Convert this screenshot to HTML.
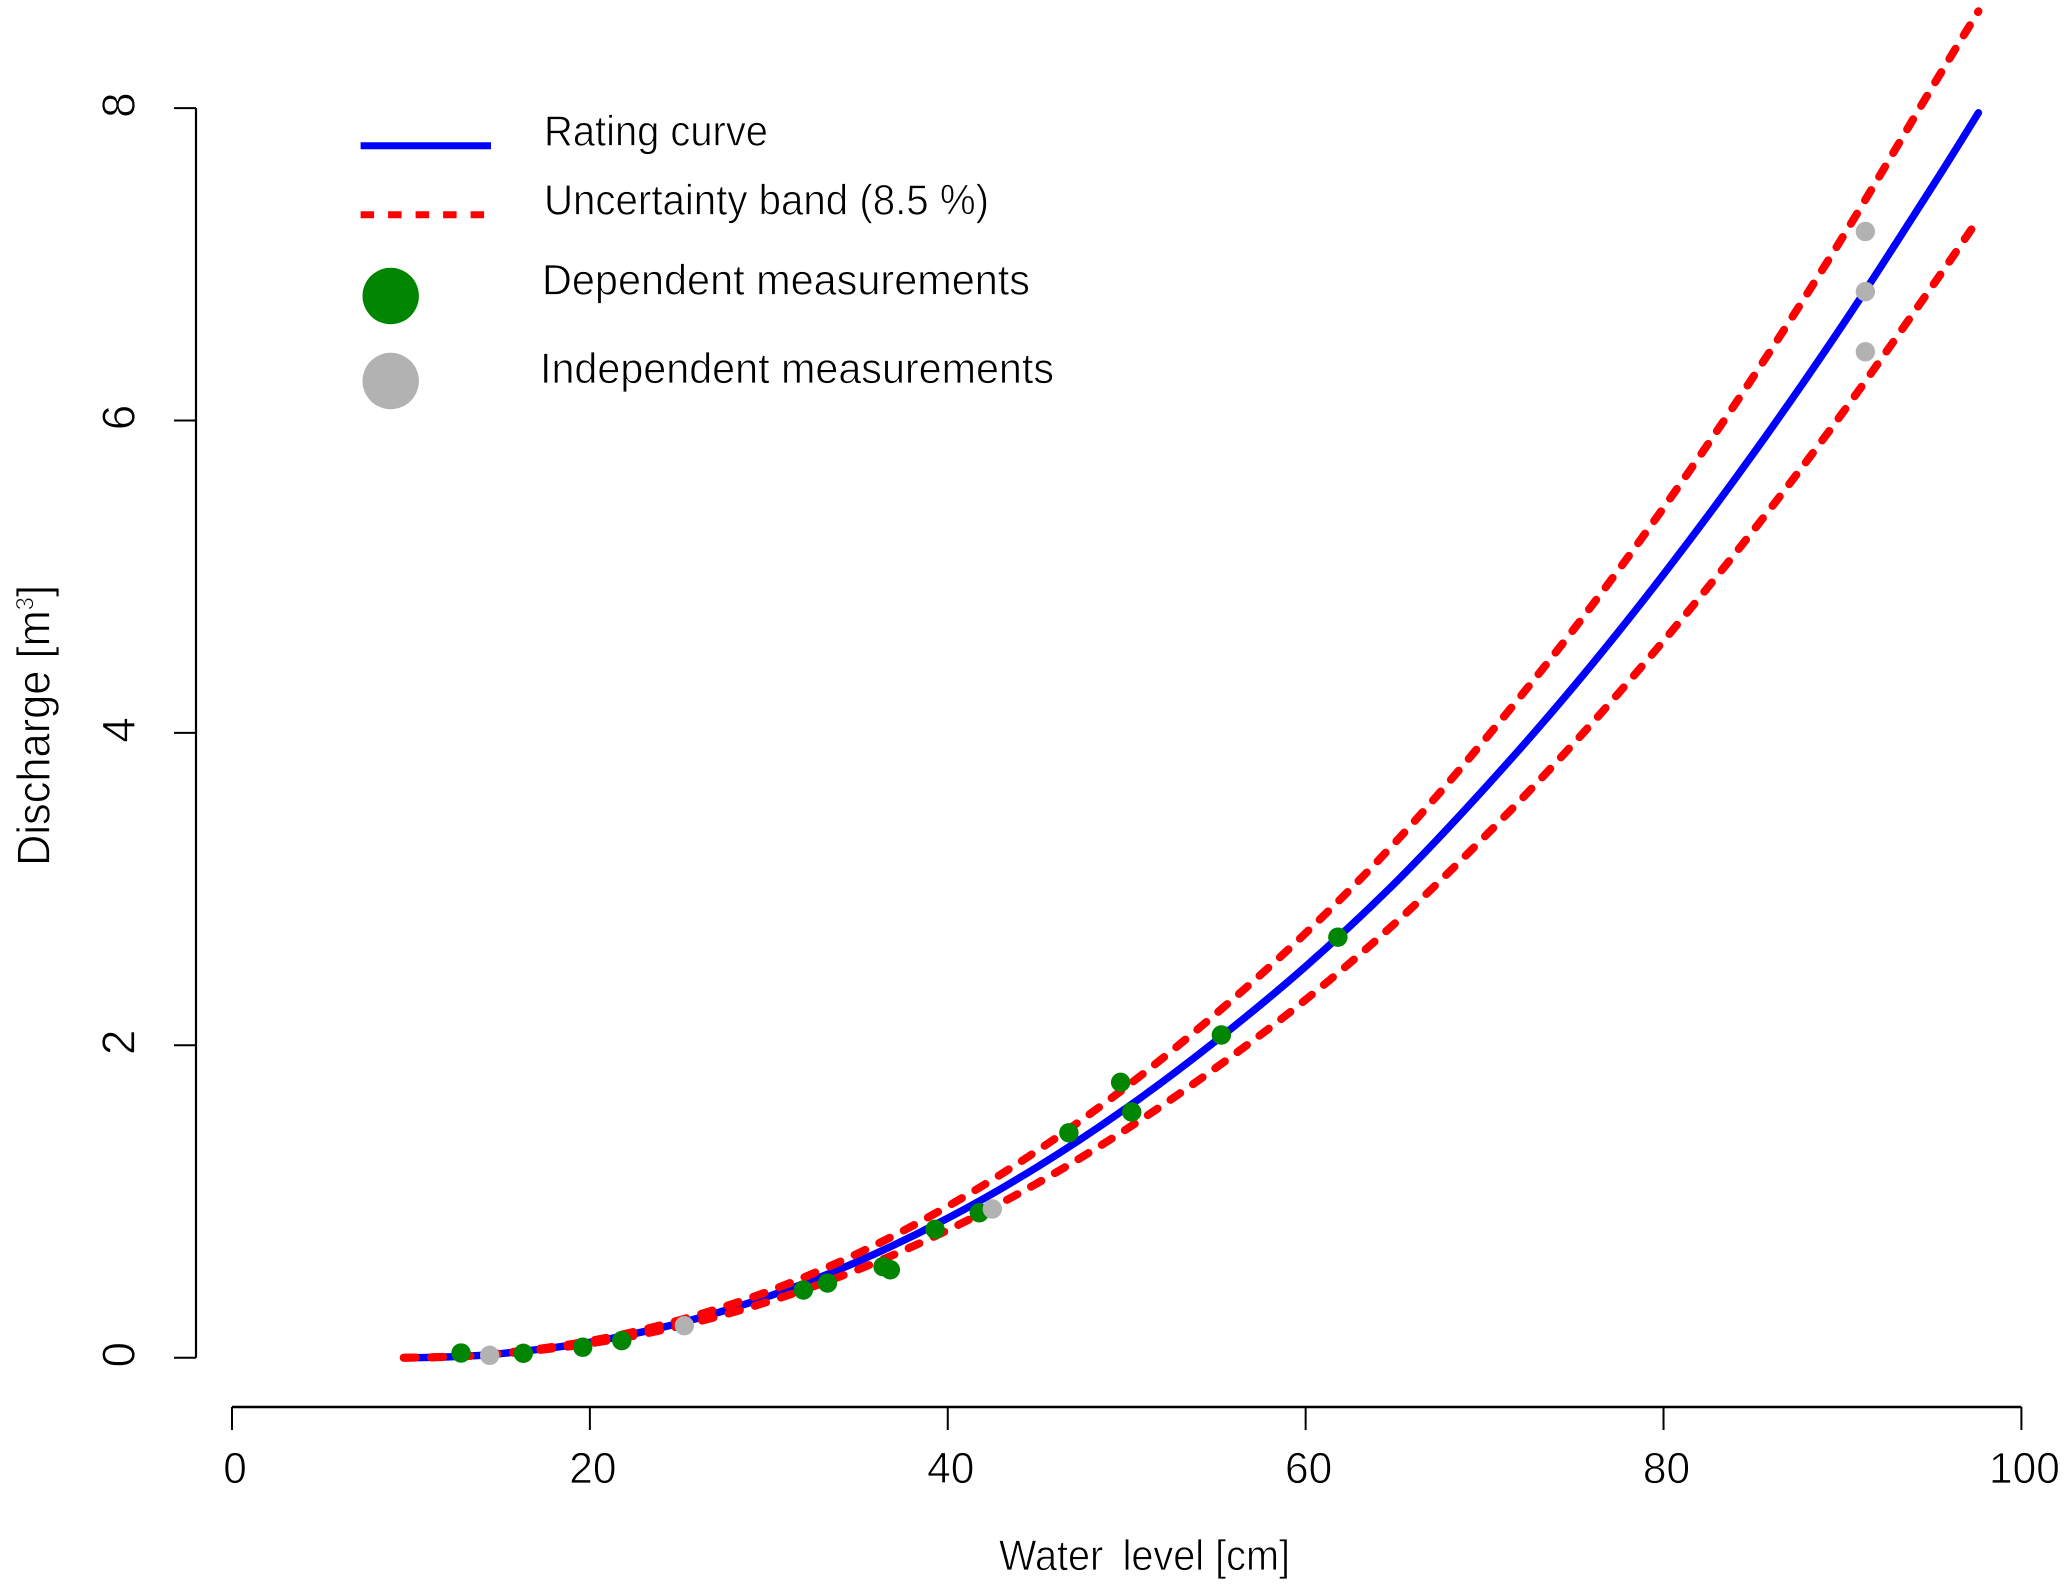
<!DOCTYPE html>
<html lang="en">
<head>
<meta charset="utf-8">
<title>Rating curve</title>
<style>
html,body{margin:0;padding:0;background:#fff;}
svg{display:block;}
text{font-family:"Liberation Sans",sans-serif;fill:#000;stroke:#fff;stroke-width:0.8px;}
</style>
</head>
<body>
<svg id="chart" xmlns="http://www.w3.org/2000/svg" width="2067" height="1586" viewBox="0 0 2067 1586">
  <rect x="0" y="0" width="2067" height="1586" fill="#fff"/>
  <g id="axes"></g>
  <g id="series"></g>
  <g id="points"></g>

  <text x="999" y="1570" font-size="43" textLength="291" lengthAdjust="spacingAndGlyphs"><tspan word-spacing="9">Water </tspan>level [cm]</text>
  <text transform="translate(49.3 866) rotate(-90) scale(0.944 1)" font-size="46">Discharge [m<tspan font-size="25" dy="-16">3</tspan><tspan dy="16">]</tspan></text>

  <g>
    <line x1="360.6" y1="145.7" x2="491" y2="145.7" stroke="#0000ff" stroke-width="7"/>
    <text x="544" y="145.5" font-size="43" textLength="224" lengthAdjust="spacingAndGlyphs">Rating curve</text>
    <line x1="360.6" y1="214.7" x2="491" y2="214.7" stroke="#ff0000" stroke-width="7" stroke-dasharray="13.5 14"/>
    <text x="544" y="214.5" font-size="43" textLength="445" lengthAdjust="spacingAndGlyphs">Uncertainty band (8.5 %)</text>
    <circle cx="390.7" cy="296" r="28.2" fill="#008500"/>
    <text x="542" y="294.5" font-size="43" textLength="488" lengthAdjust="spacingAndGlyphs">Dependent measurements</text>
    <circle cx="390.7" cy="381" r="28.2" fill="#b2b2b2"/>
    <text x="540" y="383" font-size="43" textLength="514" lengthAdjust="spacingAndGlyphs">Independent measurements</text>
  </g>
</svg>
<script>
const xTickLabels = [0, 20, 40, 60, 80, 100];
const yTickLabels = [0, 2, 4, 6, 8];

const waterLevel = [9.6, 12, 15, 20, 25, 30, 35, 40, 45, 50, 55, 60, 65, 70, 75, 80, 85, 90, 95, 97.6];
const ratingCurve = [0, 0.005, 0.026, 0.099, 0.221, 0.393, 0.617, 0.893, 1.221, 1.60, 2.03, 2.505, 3.04, 3.645, 4.30, 5.015, 5.785, 6.61, 7.494, 7.97];
const upperBand = [0, 0.006, 0.028, 0.107, 0.240, 0.426, 0.669, 0.969, 1.325, 1.736, 2.203, 2.718, 3.298, 3.955, 4.666, 5.441, 6.277, 7.172, 8.131, 8.62];
const lowerBand = [0, 0.005, 0.024, 0.091, 0.202, 0.360, 0.565, 0.817, 1.117, 1.464, 1.857, 2.292, 2.782, 3.335, 3.935, 4.589, 5.293, 6.048, 6.857, 7.29];

const dependentLevel = [12.8, 16.28, 19.6, 21.78, 31.93, 33.28, 36.38, 36.79, 39.29, 41.76, 46.77, 49.66, 50.28, 55.29, 61.8];
const dependentDischarge = [0.03, 0.028, 0.067, 0.109, 0.433, 0.478, 0.583, 0.563, 0.822, 0.928, 1.44, 1.763, 1.573, 2.066, 2.692];
const independentLevel = [14.4, 25.28, 42.49, 91.28, 91.28, 91.28];
const independentDischarge = [0.015, 0.205, 0.952, 7.21, 6.825, 6.44];

const NS = 'http://www.w3.org/2000/svg';
function sx(v) { return 232 + 17.894 * v; }
function sy(v) { return 1357.7 - 156.2 * v; }

function make(tag, parent, attrs) {
  const el = document.createElementNS(NS, tag);
  for (const k in attrs) el.setAttribute(k, attrs[k]);
  parent.appendChild(el);
  return el;
}

function curvePath(xs, ys) {
  const p = xs.map((x, i) => [sx(x), sy(ys[i])]);
  let d = 'M' + p[0][0].toFixed(2) + ' ' + p[0][1].toFixed(2);
  for (let i = 0; i < p.length - 1; i++) {
    const a = p[Math.max(i - 1, 0)], b = p[i], c = p[i + 1], e = p[Math.min(i + 2, p.length - 1)];
    const c1x = b[0] + (c[0] - a[0]) / 6, c1y = b[1] + (c[1] - a[1]) / 6;
    const c2x = c[0] - (e[0] - b[0]) / 6, c2y = c[1] - (e[1] - b[1]) / 6;
    d += 'C' + c1x.toFixed(2) + ' ' + c1y.toFixed(2) + ' ' + c2x.toFixed(2) + ' ' + c2y.toFixed(2) + ' ' + c[0].toFixed(2) + ' ' + c[1].toFixed(2);
  }
  return d;
}

function fitDashes(path, trailing) {
  const len = path.getTotalLength() - trailing;
  const period = len / Math.round(len / 27.4);
  path.setAttribute('stroke-dasharray', '11.8 ' + (period - 11.8).toFixed(3));
}

const axes = document.getElementById('axes');
const series = document.getElementById('series');
const points = document.getElementById('points');

const xAxisLine = make('line', axes, {x1: sx(xTickLabels[0]), x2: sx(xTickLabels[xTickLabels.length - 1]), y1: 1407, y2: 1407, stroke: '#000', 'stroke-width': 2.4});



xTickLabels.forEach(function (t) {
  const tick = make('line', axes, {x1: sx(t), x2: sx(t), y1: 1407, y2: 1430, stroke: '#000', 'stroke-width': 2});
  
  
  const label = make('text', axes, {x: sx(t) + 3, y: 1483, 'text-anchor': 'middle', 'font-size': 44, textLength: String(t).length * 23.6, lengthAdjust: 'spacingAndGlyphs'});
  
  
  label.textContent = t;
});

const yAxisLine = make('line', axes, {x1: 196, x2: 196, y1: sy(yTickLabels[0]), y2: sy(yTickLabels[yTickLabels.length - 1]), stroke: '#000', 'stroke-width': 2.2});



yTickLabels.forEach(function (t) {
  const tick = make('line', axes, {x1: 174, x2: 196, y1: sy(t), y2: sy(t), stroke: '#000', 'stroke-width': 2});
  
  
  const label = make('text', axes, {transform: 'translate(134.5 ' + (sy(t) - 3) + ') rotate(-90)', 'text-anchor': 'middle', 'font-size': 46});
  
  
  label.textContent = t;
});

const ratingLine = make('path', series, {d: curvePath(waterLevel, ratingCurve), fill: 'none', stroke: '#0000ff', 'stroke-width': 7.4, 'stroke-linecap': 'round'});



const upperLine = make('path', series, {d: curvePath(waterLevel, upperBand), fill: 'none', stroke: '#ff0000', 'stroke-width': 8, 'stroke-linecap': 'round'});


fitDashes(upperLine, 1);

const lowerLine = make('path', series, {d: curvePath(waterLevel, lowerBand), fill: 'none', stroke: '#ff0000', 'stroke-width': 8, 'stroke-linecap': 'round'});


fitDashes(lowerLine, -3);

dependentLevel.forEach(function (x, i) {
  const c = make('circle', points, {cx: sx(x), cy: sy(dependentDischarge[i]), r: 9.7, fill: '#008500'});
  
  
});

independentLevel.forEach(function (x, i) {
  const c = make('circle', points, {cx: sx(x), cy: sy(independentDischarge[i]), r: 9.7, fill: '#b2b2b2'});
  
  
});
</script>
</body>
</html>
